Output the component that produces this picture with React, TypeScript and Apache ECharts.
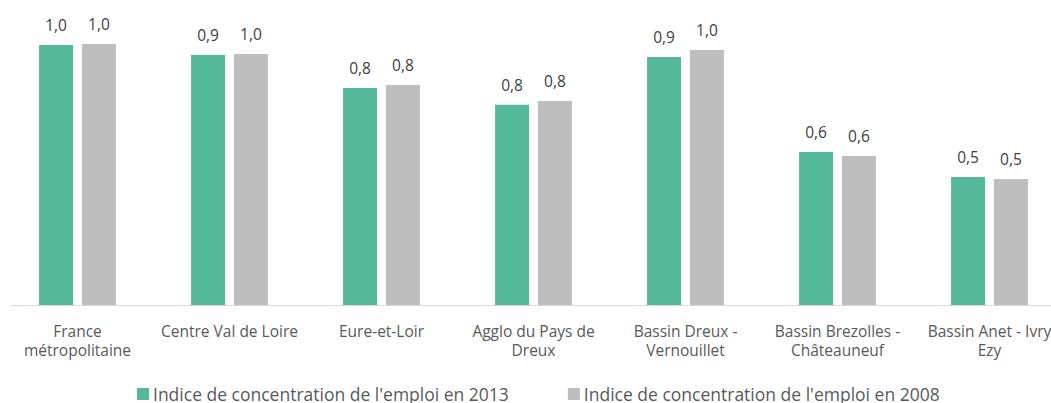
import React, { useEffect, useRef } from "react";
import * as echarts from "echarts";

const categories = [
  "France\nmétropolitaine",
  "Centre Val de Loire",
  "Eure-et-Loir",
  "Agglo du Pays de\nDreux",
  "Bassin Dreux -\nVernouillet",
  "Bassin Brezolles -\nChâteauneuf",
  "Bassin Anet - Ivry\nEzy",
];
const seriesNames = [
  "Indice de concentration de l'emploi en 2013",
  "Indice de concentration de l'emploi en 2008",
];
const values2013 = [0.987, 0.949, 0.824, 0.76, 0.941, 0.581, 0.487];
const values2008 = [0.991, 0.953, 0.835, 0.775, 0.968, 0.566, 0.479];
const colors = ["#55B89A", "#BEBEBE"];

const FONT = "'Open Sans', sans-serif";

export default function App() {
  const ref = useRef<HTMLDivElement>(null);
  useEffect(() => {
    if (!ref.current) return;
    const chart = echarts.init(ref.current, undefined, { renderer: "svg" });
    const fmt = (p: any) => Number(p.value).toFixed(1).replace(".", ",");
    const label = {
      show: true,
      position: "top",
      distance: 12,
      formatter: fmt,
      fontFamily: FONT,
      fontSize: 15.5,
      color: "#404040",
    };
    chart.setOption({
      animation: false,
      backgroundColor: "#ffffff",
      grid: { left: 1.5, right: 4.5, top: 15.1, bottom: 97.5, containLabel: false },
      legend: {
        left: 137,
        top: 385,
        padding: 0,
        itemWidth: 12,
        itemHeight: 12,
        itemGap: 59,
        icon: "rect",
        textStyle: {
          fontFamily: FONT,
          fontSize: 17.5,
          lineHeight: 16,
          color: "#595959",
          padding: [0, 0, 0, -1],
        },
        data: seriesNames,
      },
      xAxis: {
        type: "category",
        data: categories,
        axisLine: { show: false },
        axisTick: { show: false },
        axisLabel: {
          interval: 0,
          margin: 16,
          fontFamily: FONT,
          fontSize: 15.5,
          lineHeight: 19,
          color: "#595959",
        },
      },
      yAxis: {
        type: "value",
        min: 0,
        max: 1.1,
        show: false,
        splitLine: { show: false },
      },
      graphic: [
        {
          type: "line",
          shape: { x1: 11, y1: 305.5, x2: 1051, y2: 305.5 },
          style: { stroke: "#D9D9D9", lineWidth: 1 },
          z: 10,
        },
      ],
      series: [
        {
          name: seriesNames[0],
          type: "bar",
          data: values2013,
          barWidth: 34,
          barGap: "26%",
          itemStyle: { color: colors[0] },
          label,
        },
        {
          name: seriesNames[1],
          type: "bar",
          data: values2008,
          barWidth: 34,
          barGap: "26%",
          itemStyle: { color: colors[1] },
          label,
        },
      ],
    });
    return () => chart.dispose();
  }, []);
  return (
    <div
      style={{ position: "absolute", left: 0, top: 0, width: 1051, height: 403, overflow: "hidden" }}
    >
      <div ref={ref} style={{ width: 1070, height: 403 }} />
    </div>
  );
}
